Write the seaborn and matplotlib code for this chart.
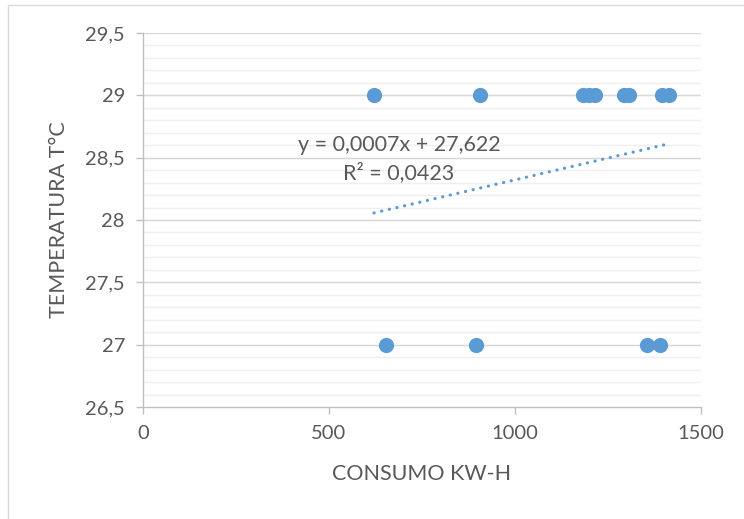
import numpy as np
import pandas as pd
import matplotlib
matplotlib.use("Agg")
import matplotlib.pyplot as plt
import seaborn as sns
from matplotlib.patches import Rectangle

consumo = [621, 906, 1183, 1200, 1215, 1292, 1307, 1395, 1413, 653, 896, 1354, 1390]
temperatura = [29, 29, 29, 29, 29, 29, 29, 29, 29, 27, 27, 27, 27]
slope = 0.0007
intercept = 27.622
eq_label = "y = 0,0007x + 27,622"
r2_label = "R² = 0,0423"
x_ticks = [0, 500, 1000, 1500]
y_ticks = [26.5, 27, 27.5, 28, 28.5, 29, 29.5]
y_ticklabels = ["26,5", "27", "27,5", "28", "28,5", "29", "29,5"]

df = pd.DataFrame({"consumo": consumo, "temperatura": temperatura})

sns.set_style("white")
plt.rcParams["font.family"] = ["Lato", "DejaVu Sans"]

txt = "#595959"
blue = "#5B9BD5"

fig = plt.figure(figsize=(7.44, 5.19), dpi=100)
ax = fig.add_axes([143/744, 1-407/519, 558/744, 374/519])

# gridlines
for v in np.arange(26.6, 29.5, 0.1):
    ax.axhline(v, color="#EFEFEF", lw=1.0, zorder=0)
for v in y_ticks[1:]:
    ax.axhline(v, color="#D9D9D9", lw=1.0, zorder=0)

sns.scatterplot(data=df, x="consumo", y="temperatura", ax=ax, color=blue,
                s=120, edgecolor=blue, linewidth=0, zorder=3, legend=False)

tx = np.array([min(consumo), max(consumo)])
ty = slope * tx + intercept
ax.plot(tx, ty, color=blue, lw=2.3, linestyle=(0, (0.05, 2.4)),
        dash_capstyle="round", solid_capstyle="round", zorder=2)

ax.text(688, 28.60, eq_label, ha="center", va="center", fontsize=15.5, color=txt)
ax.text(688, 28.38, r2_label, ha="center", va="center", fontsize=15.5, color=txt)

ax.set_xlim(0, 1500)
ax.set_ylim(26.5, 29.5)
ax.set_xticks(x_ticks)
ax.set_xticklabels([str(t) for t in x_ticks])
ax.set_yticks(y_ticks)
ax.set_yticklabels(y_ticklabels)

for s in ["top", "right"]:
    ax.spines[s].set_visible(False)
for s in ["left", "bottom"]:
    ax.spines[s].set_color("#BFBFBF")
    ax.spines[s].set_linewidth(1.0)

ax.tick_params(axis="both", which="major", direction="out", length=5,
               width=1.0, color="#BFBFBF", labelsize=14.5, labelcolor=txt)
ax.tick_params(axis="y", pad=8)
ax.tick_params(axis="x", pad=8)
ax.tick_params(left=True, bottom=True)

ax.set_xlabel("CONSUMO KW-H", fontsize=15.5, color=txt, labelpad=16)
ax.set_ylabel("TEMPERATURA T°C", fontsize=15.5, color=txt, labelpad=12)

fig.patches.append(Rectangle((8/744, -0.1), 1.2, 1 - 5/519 + 0.1,
                             transform=fig.transFigure, fill=False,
                             edgecolor="#D9D9D9", lw=1.0))

fig.savefig("out.png", dpi=100)
